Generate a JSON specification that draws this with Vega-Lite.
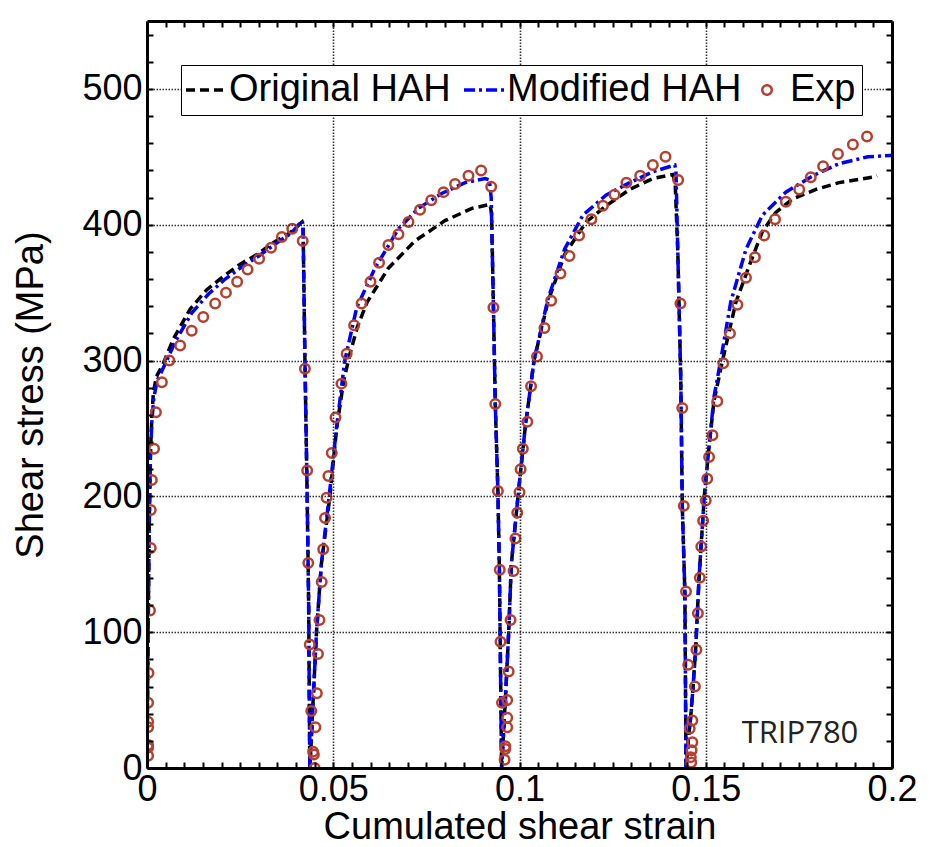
{
"$schema":"https://vega.github.io/schema/vega-lite/v6.json",
"width":745,"height":747,
"autosize":{"type":"none"},
"padding":{"left":147,"top":21,"right":44,"bottom":79},
"background":"white",
"config":{"view":{"stroke":null},"font":"Liberation Sans"},
"datasets":{
"lines":[
{"s":"Original HAH","x":0,"y":0},{"s":"Original HAH","x":0.0003,"y":100},{"s":"Original HAH","x":0.0006,"y":180},{"s":"Original HAH","x":0.0009,"y":230},{"s":"Original HAH","x":0.0013,"y":258},{"s":"Original HAH","x":0.0017,"y":276},{"s":"Original HAH","x":0.0025,"y":288},{"s":"Original HAH","x":0.0044,"y":298},{"s":"Original HAH","x":0.0071,"y":316},{"s":"Original HAH","x":0.0116,"y":338},{"s":"Original HAH","x":0.016,"y":352},{"s":"Original HAH","x":0.0205,"y":362},{"s":"Original HAH","x":0.025,"y":371},{"s":"Original HAH","x":0.0295,"y":378},{"s":"Original HAH","x":0.034,"y":387},{"s":"Original HAH","x":0.0384,"y":394},{"s":"Original HAH","x":0.0416,"y":402},{"s":"Original HAH","x":0.0419,"y":398},{"s":"Original HAH","x":0.0424,"y":300},{"s":"Original HAH","x":0.043,"y":200},{"s":"Original HAH","x":0.0434,"y":120},{"s":"Original HAH","x":0.0437,"y":0},{"s":"Original HAH","x":0.0441,"y":20},{"s":"Original HAH","x":0.0446,"y":50},{"s":"Original HAH","x":0.0455,"y":100},{"s":"Original HAH","x":0.0468,"y":150},{"s":"Original HAH","x":0.0491,"y":200},{"s":"Original HAH","x":0.0509,"y":250},{"s":"Original HAH","x":0.0528,"y":285},{"s":"Original HAH","x":0.0545,"y":305},{"s":"Original HAH","x":0.0565,"y":325},{"s":"Original HAH","x":0.0591,"y":343},{"s":"Original HAH","x":0.0648,"y":368},{"s":"Original HAH","x":0.0719,"y":388},{"s":"Original HAH","x":0.08,"y":403},{"s":"Original HAH","x":0.0872,"y":412},{"s":"Original HAH","x":0.0921,"y":415},{"s":"Original HAH","x":0.0925,"y":408},{"s":"Original HAH","x":0.093,"y":340},{"s":"Original HAH","x":0.0935,"y":268},{"s":"Original HAH","x":0.0942,"y":204},{"s":"Original HAH","x":0.0946,"y":146},{"s":"Original HAH","x":0.0952,"y":0},{"s":"Original HAH","x":0.0957,"y":25},{"s":"Original HAH","x":0.0962,"y":50},{"s":"Original HAH","x":0.0971,"y":100},{"s":"Original HAH","x":0.0978,"y":150},{"s":"Original HAH","x":0.0987,"y":175},{"s":"Original HAH","x":0.0996,"y":200},{"s":"Original HAH","x":0.1015,"y":250},{"s":"Original HAH","x":0.1039,"y":300},{"s":"Original HAH","x":0.1076,"y":343},{"s":"Original HAH","x":0.1121,"y":378},{"s":"Original HAH","x":0.1179,"y":402},{"s":"Original HAH","x":0.1233,"y":414},{"s":"Original HAH","x":0.1296,"y":426},{"s":"Original HAH","x":0.1358,"y":434},{"s":"Original HAH","x":0.1412,"y":437},{"s":"Original HAH","x":0.1418,"y":430},{"s":"Original HAH","x":0.1425,"y":380},{"s":"Original HAH","x":0.1433,"y":286},{"s":"Original HAH","x":0.1437,"y":193},{"s":"Original HAH","x":0.1444,"y":129},{"s":"Original HAH","x":0.1447,"y":0},{"s":"Original HAH","x":0.1453,"y":20},{"s":"Original HAH","x":0.146,"y":39},{"s":"Original HAH","x":0.1466,"y":60},{"s":"Original HAH","x":0.1473,"y":88},{"s":"Original HAH","x":0.1482,"y":140},{"s":"Original HAH","x":0.1496,"y":200},{"s":"Original HAH","x":0.1509,"y":237},{"s":"Original HAH","x":0.1522,"y":270},{"s":"Original HAH","x":0.1545,"y":300},{"s":"Original HAH","x":0.1581,"y":343},{"s":"Original HAH","x":0.1617,"y":370},{"s":"Original HAH","x":0.1652,"y":395},{"s":"Original HAH","x":0.1688,"y":409},{"s":"Original HAH","x":0.1733,"y":419},{"s":"Original HAH","x":0.1796,"y":426},{"s":"Original HAH","x":0.1858,"y":431},{"s":"Original HAH","x":0.1948,"y":435},{"s":"Original HAH","x":0.196,"y":436},
{"s":"Modified HAH","x":0,"y":0},{"s":"Modified HAH","x":0.0003,"y":100},{"s":"Modified HAH","x":0.0006,"y":180},{"s":"Modified HAH","x":0.0009,"y":228},{"s":"Modified HAH","x":0.0013,"y":255},{"s":"Modified HAH","x":0.0018,"y":272},{"s":"Modified HAH","x":0.0027,"y":285},{"s":"Modified HAH","x":0.0048,"y":297},{"s":"Modified HAH","x":0.0076,"y":314},{"s":"Modified HAH","x":0.012,"y":335},{"s":"Modified HAH","x":0.0165,"y":349},{"s":"Modified HAH","x":0.021,"y":360},{"s":"Modified HAH","x":0.0255,"y":369},{"s":"Modified HAH","x":0.03,"y":377},{"s":"Modified HAH","x":0.0345,"y":386},{"s":"Modified HAH","x":0.0388,"y":394},{"s":"Modified HAH","x":0.0417,"y":403},{"s":"Modified HAH","x":0.0419,"y":398},{"s":"Modified HAH","x":0.0424,"y":300},{"s":"Modified HAH","x":0.043,"y":200},{"s":"Modified HAH","x":0.0434,"y":120},{"s":"Modified HAH","x":0.0437,"y":0},{"s":"Modified HAH","x":0.0441,"y":20},{"s":"Modified HAH","x":0.0446,"y":50},{"s":"Modified HAH","x":0.0455,"y":100},{"s":"Modified HAH","x":0.0468,"y":150},{"s":"Modified HAH","x":0.0489,"y":200},{"s":"Modified HAH","x":0.0509,"y":251},{"s":"Modified HAH","x":0.0531,"y":300},{"s":"Modified HAH","x":0.0563,"y":339},{"s":"Modified HAH","x":0.0612,"y":368},{"s":"Modified HAH","x":0.0675,"y":397},{"s":"Modified HAH","x":0.0728,"y":412},{"s":"Modified HAH","x":0.0791,"y":423},{"s":"Modified HAH","x":0.0854,"y":431},{"s":"Modified HAH","x":0.0908,"y":434},{"s":"Modified HAH","x":0.0919,"y":433},{"s":"Modified HAH","x":0.0924,"y":420},{"s":"Modified HAH","x":0.093,"y":340},{"s":"Modified HAH","x":0.0935,"y":268},{"s":"Modified HAH","x":0.0942,"y":204},{"s":"Modified HAH","x":0.0946,"y":146},{"s":"Modified HAH","x":0.0952,"y":0},{"s":"Modified HAH","x":0.0957,"y":25},{"s":"Modified HAH","x":0.0962,"y":50},{"s":"Modified HAH","x":0.0971,"y":100},{"s":"Modified HAH","x":0.0978,"y":150},{"s":"Modified HAH","x":0.0987,"y":175},{"s":"Modified HAH","x":0.0996,"y":200},{"s":"Modified HAH","x":0.1015,"y":250},{"s":"Modified HAH","x":0.1039,"y":300},{"s":"Modified HAH","x":0.1076,"y":345},{"s":"Modified HAH","x":0.1121,"y":382},{"s":"Modified HAH","x":0.117,"y":407},{"s":"Modified HAH","x":0.1233,"y":422},{"s":"Modified HAH","x":0.1296,"y":431},{"s":"Modified HAH","x":0.1358,"y":439},{"s":"Modified HAH","x":0.1417,"y":444},{"s":"Modified HAH","x":0.142,"y":440},{"s":"Modified HAH","x":0.1425,"y":380},{"s":"Modified HAH","x":0.1433,"y":286},{"s":"Modified HAH","x":0.1437,"y":193},{"s":"Modified HAH","x":0.1444,"y":129},{"s":"Modified HAH","x":0.1447,"y":0},{"s":"Modified HAH","x":0.1453,"y":20},{"s":"Modified HAH","x":0.146,"y":39},{"s":"Modified HAH","x":0.1466,"y":60},{"s":"Modified HAH","x":0.1473,"y":88},{"s":"Modified HAH","x":0.1482,"y":140},{"s":"Modified HAH","x":0.1496,"y":200},{"s":"Modified HAH","x":0.1509,"y":237},{"s":"Modified HAH","x":0.1522,"y":273},{"s":"Modified HAH","x":0.154,"y":300},{"s":"Modified HAH","x":0.1567,"y":343},{"s":"Modified HAH","x":0.1608,"y":382},{"s":"Modified HAH","x":0.1652,"y":407},{"s":"Modified HAH","x":0.1715,"y":424},{"s":"Modified HAH","x":0.1787,"y":436},{"s":"Modified HAH","x":0.1858,"y":445},{"s":"Modified HAH","x":0.1935,"y":450},{"s":"Modified HAH","x":0.1993,"y":451},{"s":"Modified HAH","x":0.2,"y":451}
],
"exp":[
{"s":"Exp","x":0.0003,"y":9},{"s":"Exp","x":0.0003,"y":15},{"s":"Exp","x":0.0003,"y":17},{"s":"Exp","x":0.0003,"y":30},{"s":"Exp","x":0.0003,"y":34},{"s":"Exp","x":0.0003,"y":48},{"s":"Exp","x":0.0004,"y":70},{"s":"Exp","x":0.0008,"y":116},{"s":"Exp","x":0.001,"y":162},{"s":"Exp","x":0.001,"y":190},{"s":"Exp","x":0.0013,"y":212},{"s":"Exp","x":0.0019,"y":235},{"s":"Exp","x":0.0024,"y":262},{"s":"Exp","x":0.004,"y":284},{"s":"Exp","x":0.006,"y":300},{"s":"Exp","x":0.0089,"y":311},{"s":"Exp","x":0.012,"y":322},{"s":"Exp","x":0.0151,"y":332},{"s":"Exp","x":0.0183,"y":342},{"s":"Exp","x":0.0212,"y":350},{"s":"Exp","x":0.0242,"y":358},{"s":"Exp","x":0.027,"y":367},{"s":"Exp","x":0.0301,"y":375},{"s":"Exp","x":0.0333,"y":383},{"s":"Exp","x":0.0362,"y":391},{"s":"Exp","x":0.039,"y":397},
{"s":"Exp","x":0.0418,"y":388},{"s":"Exp","x":0.0424,"y":294},{"s":"Exp","x":0.043,"y":219},{"s":"Exp","x":0.0433,"y":151},{"s":"Exp","x":0.0437,"y":91},{"s":"Exp","x":0.0441,"y":42},{"s":"Exp","x":0.0446,"y":12},{"s":"Exp","x":0.0448,"y":10},{"s":"Exp","x":0.045,"y":0},
{"s":"Exp","x":0.0452,"y":30},{"s":"Exp","x":0.0456,"y":55},{"s":"Exp","x":0.0459,"y":84},{"s":"Exp","x":0.0463,"y":109},{"s":"Exp","x":0.0469,"y":137},{"s":"Exp","x":0.0473,"y":161},{"s":"Exp","x":0.0478,"y":184},{"s":"Exp","x":0.0482,"y":199},{"s":"Exp","x":0.0487,"y":215},{"s":"Exp","x":0.0496,"y":232},{"s":"Exp","x":0.0506,"y":258},{"s":"Exp","x":0.0522,"y":283},{"s":"Exp","x":0.0536,"y":305},{"s":"Exp","x":0.0556,"y":326},{"s":"Exp","x":0.0576,"y":342},{"s":"Exp","x":0.06,"y":358},{"s":"Exp","x":0.0623,"y":372},{"s":"Exp","x":0.0648,"y":385},{"s":"Exp","x":0.0675,"y":393},{"s":"Exp","x":0.0702,"y":402},{"s":"Exp","x":0.0733,"y":411},{"s":"Exp","x":0.0763,"y":418},{"s":"Exp","x":0.0796,"y":424},{"s":"Exp","x":0.0827,"y":430},{"s":"Exp","x":0.0863,"y":436},{"s":"Exp","x":0.0897,"y":440},
{"s":"Exp","x":0.0924,"y":428},{"s":"Exp","x":0.093,"y":339},{"s":"Exp","x":0.0935,"y":268},{"s":"Exp","x":0.0942,"y":204},{"s":"Exp","x":0.0947,"y":146},{"s":"Exp","x":0.0949,"y":93},{"s":"Exp","x":0.0953,"y":48},{"s":"Exp","x":0.0962,"y":16},{"s":"Exp","x":0.0962,"y":14},{"s":"Exp","x":0.096,"y":6},
{"s":"Exp","x":0.0967,"y":30},{"s":"Exp","x":0.0967,"y":37},{"s":"Exp","x":0.0967,"y":50},{"s":"Exp","x":0.0971,"y":71},{"s":"Exp","x":0.0976,"y":109},{"s":"Exp","x":0.0984,"y":145},{"s":"Exp","x":0.0989,"y":169},{"s":"Exp","x":0.0994,"y":188},{"s":"Exp","x":0.1,"y":203},{"s":"Exp","x":0.1003,"y":220},{"s":"Exp","x":0.1009,"y":235},{"s":"Exp","x":0.1021,"y":255},{"s":"Exp","x":0.1031,"y":281},{"s":"Exp","x":0.1047,"y":303},{"s":"Exp","x":0.1067,"y":324},{"s":"Exp","x":0.1085,"y":344},{"s":"Exp","x":0.111,"y":364},{"s":"Exp","x":0.1134,"y":377},{"s":"Exp","x":0.116,"y":392},{"s":"Exp","x":0.1193,"y":404},{"s":"Exp","x":0.1224,"y":414},{"s":"Exp","x":0.1255,"y":422},{"s":"Exp","x":0.1287,"y":431},{"s":"Exp","x":0.1324,"y":436},{"s":"Exp","x":0.1358,"y":444},{"s":"Exp","x":0.1392,"y":450},
{"s":"Exp","x":0.1426,"y":433},{"s":"Exp","x":0.1432,"y":342},{"s":"Exp","x":0.1437,"y":265},{"s":"Exp","x":0.1441,"y":193},{"s":"Exp","x":0.1447,"y":130},{"s":"Exp","x":0.1453,"y":76},{"s":"Exp","x":0.1457,"y":29},{"s":"Exp","x":0.146,"y":8},{"s":"Exp","x":0.1461,"y":4},
{"s":"Exp","x":0.1462,"y":13},{"s":"Exp","x":0.1464,"y":19},{"s":"Exp","x":0.1464,"y":35},{"s":"Exp","x":0.1471,"y":60},{"s":"Exp","x":0.1475,"y":87},{"s":"Exp","x":0.1479,"y":114},{"s":"Exp","x":0.1484,"y":140},{"s":"Exp","x":0.1488,"y":163},{"s":"Exp","x":0.1493,"y":182},{"s":"Exp","x":0.15,"y":197},{"s":"Exp","x":0.1504,"y":213},{"s":"Exp","x":0.1509,"y":229},{"s":"Exp","x":0.1518,"y":245},{"s":"Exp","x":0.1531,"y":270},{"s":"Exp","x":0.1547,"y":298},{"s":"Exp","x":0.1565,"y":320},{"s":"Exp","x":0.1585,"y":341},{"s":"Exp","x":0.1608,"y":361},{"s":"Exp","x":0.1632,"y":376},{"s":"Exp","x":0.1657,"y":392},{"s":"Exp","x":0.1686,"y":404},{"s":"Exp","x":0.1715,"y":417},{"s":"Exp","x":0.1751,"y":426},{"s":"Exp","x":0.1782,"y":435},{"s":"Exp","x":0.1815,"y":443},{"s":"Exp","x":0.1855,"y":452},{"s":"Exp","x":0.1895,"y":459},{"s":"Exp","x":0.1933,"y":465}
],
"note":[{"x":0.1753,"y":25,"t":"TRIP780"}]
},
"layer":[
{
"data":{"name":"lines"},
"mark":{"type":"line","strokeWidth":3.5,"clip":true},
"encoding":{
"x":{"field":"x","type":"quantitative","scale":{"domain":[0,0.2],"nice":false,"zero":false},
"axis":{"orient":"bottom","values":[0,0.005,0.01,0.015,0.02,0.025,0.03,0.035,0.04,0.045,0.05,0.055,0.06,0.065,0.07,0.075,0.08,0.085,0.09,0.095,0.1,0.105,0.11,0.115,0.12,0.125,0.13,0.135,0.14,0.145,0.15,0.155,0.16,0.165,0.17,0.175,0.18,0.185,0.19,0.195,0.2],
"labelExpr":"abs(datum.value*20-round(datum.value*20))<0.001 ? format(datum.value,'~g') : ''",
"labelFontSize":36,"labelColor":"black","labelPadding":10,"labelOverlap":false,"labelFlush":false,
"tickSize":-6,"tickWidth":2,"tickColor":"black","domainColor":"black","domainWidth":3,
"grid":true,"gridColor":"#333","gridDash":[1.5,1.5],"gridWidth":1.6,
"gridOpacity":{"condition":{"test":"abs(datum.value*20-round(datum.value*20))<0.001 && datum.value>0.001 && datum.value<0.199","value":1},"value":0},
"title":"Cumulated shear strain","titleFontSize":38,"titleFontWeight":"normal","titleColor":"black","titlePadding":1,"zindex":1}},
"y":{"field":"y","type":"quantitative","scale":{"domain":[0,550],"nice":false},
"axis":{"orient":"left","values":[0,20,40,60,80,100,120,140,160,180,200,220,240,260,280,300,320,340,360,380,400,420,440,460,480,500,520,540],
"labelExpr":"datum.value % 100 == 0 ? format(datum.value,'d') : ''",
"labelFontSize":36,"labelColor":"black","labelPadding":11,"labelOverlap":false,"labelFlush":false,
"tickSize":-6,"tickWidth":2,"tickColor":"black","domainColor":"black","domainWidth":3,
"grid":true,"gridColor":"#333","gridDash":[1.5,1.5],"gridWidth":1.6,
"gridOpacity":{"condition":{"test":"datum.value % 100 == 0 && datum.value>0 && datum.value<550","value":1},"value":0},
"title":"Shear stress (MPa)","titleFontSize":38,"titleFontWeight":"normal","titleColor":"black","titlePadding":31,"zindex":1}},
"color":{"field":"s","type":"nominal","scale":{"domain":["Original HAH","Modified HAH","Exp"],"range":["black","#0000ff","#b5402e"]},
"legend":{"orient":"none","legendX":34,"legendY":44,"direction":"horizontal","title":null,"labelFontSize":38,"labelLimit":0,"labelColor":"black","strokeColor":"black","fillColor":"white","padding":6,"columnPadding":6,"labelOffset":4,"symbolSize":1600,"symbolStrokeWidth":3,"zindex":2,
"encode":{"symbols":{"update":{"size":{"signal":"datum.value == 'Exp' ? 90 : 1600"},"strokeWidth":{"signal":"datum.value == 'Exp' ? 2.5 : 3.5"}}}}}},
"strokeDash":{"field":"s","type":"nominal","scale":{"domain":["Original HAH","Modified HAH","Exp"],"range":[[9,5],[11,4,3,4],[1,0]]},
"legend":{"orient":"none","legendX":34,"legendY":44,"direction":"horizontal","title":null,"labelFontSize":38,"labelLimit":0,"labelColor":"black","strokeColor":"black","fillColor":"white","padding":6,"columnPadding":6,"labelOffset":4,"symbolSize":1600,"symbolStrokeWidth":3,"zindex":2,
"encode":{"symbols":{"update":{"size":{"signal":"datum.value == 'Exp' ? 90 : 1600"},"strokeWidth":{"signal":"datum.value == 'Exp' ? 2.5 : 3.5"}}}}}}
}
},
{
"data":{"name":"exp"},
"mark":{"type":"point","filled":false,"strokeWidth":2.5,"size":90,"opacity":1,"clip":true},
"encoding":{
"x":{"field":"x","type":"quantitative","axis":{"orient":"top","values":[0,0.005,0.01,0.015,0.02,0.025,0.03,0.035,0.04,0.045,0.05,0.055,0.06,0.065,0.07,0.075,0.08,0.085,0.09,0.095,0.1,0.105,0.11,0.115,0.12,0.125,0.13,0.135,0.14,0.145,0.15,0.155,0.16,0.165,0.17,0.175,0.18,0.185,0.19,0.195,0.2],"labels":false,"grid":false,"title":null,"tickSize":-6,"tickWidth":2,"tickColor":"black","domainColor":"black","domainWidth":3,"zindex":1}},
"y":{"field":"y","type":"quantitative","axis":{"orient":"right","values":[0,20,40,60,80,100,120,140,160,180,200,220,240,260,280,300,320,340,360,380,400,420,440,460,480,500,520,540],"labels":false,"grid":false,"title":null,"tickSize":-6,"tickWidth":2,"tickColor":"black","domainColor":"black","domainWidth":3,"zindex":1}},
"color":{"field":"s","type":"nominal","scale":{"domain":["Original HAH","Modified HAH","Exp"],"range":["black","#0000ff","#b5402e"]},
"legend":{"orient":"none","legendX":34,"legendY":44,"direction":"horizontal","title":null,"labelFontSize":38,"labelLimit":0,"labelColor":"black","strokeColor":"black","fillColor":"white","padding":6,"columnPadding":6,"labelOffset":4,"symbolSize":1600,"symbolStrokeWidth":3,"zindex":2,
"encode":{"symbols":{"update":{"size":{"signal":"datum.value == 'Exp' ? 90 : 1600"},"strokeWidth":{"signal":"datum.value == 'Exp' ? 2.5 : 3.5"}}}}}},
"shape":{"field":"s","type":"nominal","scale":{"domain":["Original HAH","Modified HAH","Exp"],"range":["stroke","stroke","circle"]},
"legend":{"orient":"none","legendX":34,"legendY":44,"direction":"horizontal","title":null,"labelFontSize":38,"labelLimit":0,"labelColor":"black","strokeColor":"black","fillColor":"white","padding":6,"columnPadding":6,"labelOffset":4,"symbolSize":1600,"symbolStrokeWidth":3,"zindex":2,
"encode":{"symbols":{"update":{"size":{"signal":"datum.value == 'Exp' ? 90 : 1600"},"strokeWidth":{"signal":"datum.value == 'Exp' ? 2.5 : 3.5"}}}}}}
}
},
{
"data":{"name":"note"},
"mark":{"type":"text","font":"Open Sans","fontSize":31,"color":"#222"},
"encoding":{
"x":{"field":"x","type":"quantitative","axis":null},
"y":{"field":"y","type":"quantitative","axis":null},
"text":{"field":"t"}
}
}
],
"resolve":{"axis":{"x":"independent","y":"independent"}}
}
